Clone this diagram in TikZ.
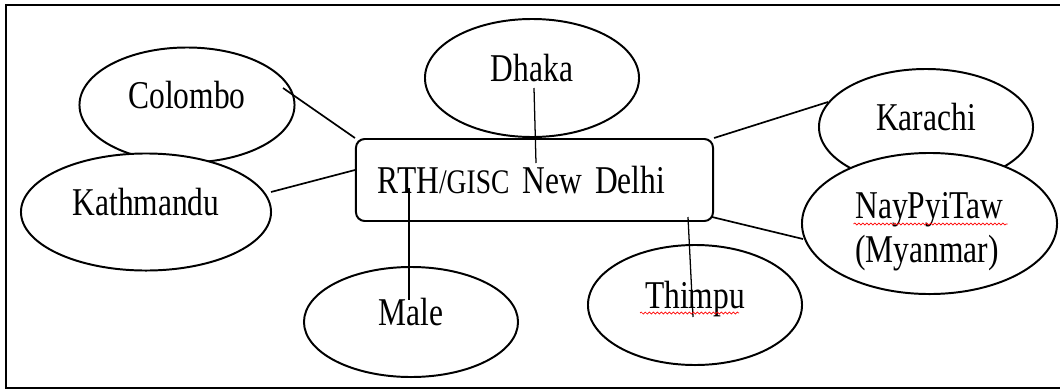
\documentclass[tikz,border=0pt]{standalone}
\usepackage{fontspec}
\setmainfont{Liberation Serif}[FakeStretch=0.8]
\usetikzlibrary{shapes,positioning,decorations.pathmorphing}

\begin{document}
\begin{tikzpicture}[x=0.025cm, y=-0.025cm,
    city/.style={draw, ellipse, line width=1.4pt, fill=white, inner sep=2pt,
        font=\fontsize{28}{34}\selectfont, text height=0.65cm, text depth=0.5cm},
    hub/.style={draw, rectangle, rounded corners=0.22cm, line width=1.4pt, fill=white,
        minimum width=8.925cm, minimum height=2.05cm, inner xsep=0.55cm,
        text width=7.825cm, align=left, font=\fontsize{28}{34}\selectfont},
    link/.style={line width=1.2pt},
    spell/.style={red, line width=0.5pt, decorate,
        decoration={snake, amplitude=0.025cm, segment length=0.1cm}}]

\useasboundingbox (0,0) rectangle (1060,389);

% Frame (open at the right)
\draw[line width=1.4pt] (1060,5) -- (6,5) -- (6,388) -- (1060,388);

% Stations
\node[city, minimum width=5.375cm, minimum height=2.875cm] (colombo) at (187,105) {Colombo};
\node[city, minimum width=6.25cm, minimum height=2.925cm] (kathmandu) at (146,212) {Kathmandu};
\node[city, minimum width=5.35cm, minimum height=2.95cm] (dhaka) at (532,78) {Dhaka};
\node[city, minimum width=5.35cm, minimum height=2.75cm] (male) at (411,322) {Male};
\node[city, minimum width=5.35cm, minimum height=3.0cm] (thimpu) at (695,305) {Thimpu};
\node[city, minimum width=5.35cm, minimum height=2.9cm] (karachi) at (926,127) {Karachi};
\node[city, minimum width=6.375cm, minimum height=3.475cm, text height=, text depth=,
    align=left, font=\fontsize{28}{31}\selectfont] (naypyitaw) at (929.5,223.5)
    {\rule{0pt}{1.05cm}NayPyiTaw\\(Myanmar)};

% Central hub
\node[hub] (delhi) at (534.5,180) {RTH{\fontsize{24.5}{28}\selectfont/GISC} New Delhi};

% Links to the hub
\draw[link] ([shift={(96,-17)}]colombo.center) -- (delhi.north west);
\draw[link] ([shift={(125,-20)}]kathmandu.center) -- ([shift={(0,-10)}]delhi.west);
\draw[link, line width=0.9pt] ([shift={(2,10)}]dhaka.center) -- ([shift={(1.5,-17)}]delhi.center);
\draw[link, line width=0.9pt] ([shift={(-125.5,8)}]delhi.center) -- ([shift={(-2,-22)}]male.center);
\draw[link, line width=0.9pt] ([shift={(153.5,37)}]delhi.center) -- ([shift={(-2,12)}]thimpu.center);
\draw[link] (delhi.north east) -- ([shift={(-98,-25)}]karachi.center);
\draw[link] ([shift={(177.5,37)}]delhi.center) -- ([shift={(-126.5,15.5)}]naypyitaw.center);

% Spell-check marks
\draw[spell] ([shift={(-55,8)}]thimpu.center) -- ([shift={(44,8)}]thimpu.center);
\draw[spell] ([shift={(-76,0.5)}]naypyitaw.center) -- ([shift={(78,0.5)}]naypyitaw.center);

\end{tikzpicture}
\end{document}
